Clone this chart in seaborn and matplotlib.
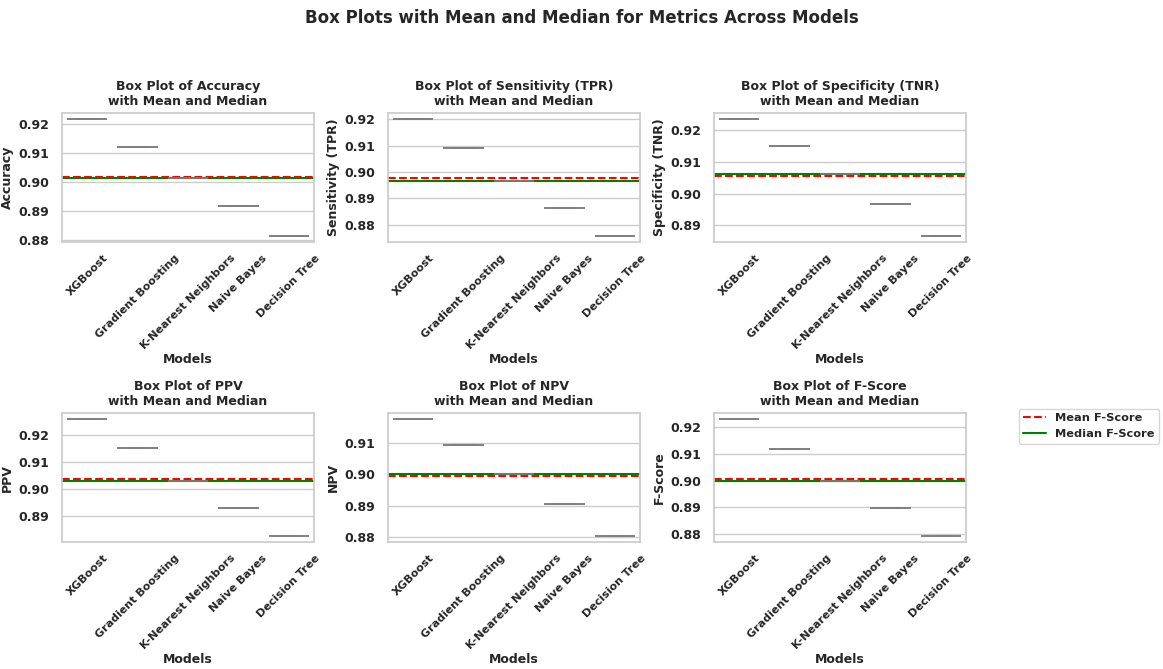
import numpy as np
import pandas as pd
import seaborn as sns
import matplotlib
matplotlib.use("Agg")
import matplotlib.pyplot as plt

models = ["XGBoost", "Gradient Boosting", "K-Nearest Neighbors", "Naive Bayes", "Decision Tree"]

accuracy = [0.9219, 0.9120, 0.9013, 0.8917, 0.8813]
sensitivity = [0.9202, 0.9091, 0.8966, 0.8864, 0.8757]
specificity = [0.9236, 0.9151, 0.9061, 0.8966, 0.8866]
ppv = [0.9259, 0.9150, 0.9028, 0.8930, 0.8825]
npv = [0.9176, 0.9093, 0.9002, 0.8905, 0.8803]
f_score = [0.9231, 0.9120, 0.8997, 0.8896, 0.8792]

metric_names = ["Accuracy", "Sensitivity (TPR)", "Specificity (TNR)", "PPV", "NPV", "F-Score"]

df = pd.DataFrame({
    "Model": models,
    "Accuracy": accuracy,
    "Sensitivity (TPR)": sensitivity,
    "Specificity (TNR)": specificity,
    "PPV": ppv,
    "NPV": npv,
    "F-Score": f_score,
})

sns.set_theme(style="whitegrid")
plt.rcParams["font.family"] = ["DejaVu Sans"]

fig, axes = plt.subplots(2, 3, figsize=(11.63, 6.69), dpi=100)
fig.subplots_adjust(left=62 / 1163, right=966 / 1163, top=1 - 113 / 669,
                    bottom=1 - 542 / 669, wspace=0.294, hspace=1.33)

for ax, metric in zip(axes.flat, metric_names):
    sns.boxplot(data=df, x="Model", y=metric, ax=ax, color="#4c72b0",
                linecolor="#7f7f7f", linewidth=1.2)
    mean_val = np.mean(df[metric])
    median_val = np.median(df[metric])
    ax.axhline(mean_val, color="red", linestyle="--", linewidth=1.5, label=f"Mean {metric}")
    ax.axhline(median_val, color="green", linestyle="-", linewidth=1.5, label=f"Median {metric}")
    ax.set_title(f"Box Plot of {metric}\nwith Mean and Median", fontsize=9, fontweight="bold")
    ax.set_xlabel("Models", fontsize=9, fontweight="bold", labelpad=1)
    ax.set_ylabel(metric, fontsize=9, fontweight="bold", labelpad=3)
    ax.tick_params(axis="x", rotation=45, labelsize=8, pad=2)
    ax.tick_params(axis="y", labelsize=9)
    for lbl in ax.get_xticklabels() + ax.get_yticklabels():
        lbl.set_fontweight("bold")
    ax.yaxis.set_major_formatter(matplotlib.ticker.FormatStrFormatter("%.2f"))

handles, labels = axes.flat[-1].get_legend_handles_labels()
fig.legend(handles, labels, loc="upper left", bbox_to_anchor=(1013 / 1163, 1 - 403 / 669),
           prop={"weight": "bold", "size": 8.2})

fig.suptitle("Box Plots with Mean and Median for Metrics Across Models",
             fontsize=12, fontweight="bold", y=1 - 9 / 669)

fig.savefig("out.png", dpi=100)
